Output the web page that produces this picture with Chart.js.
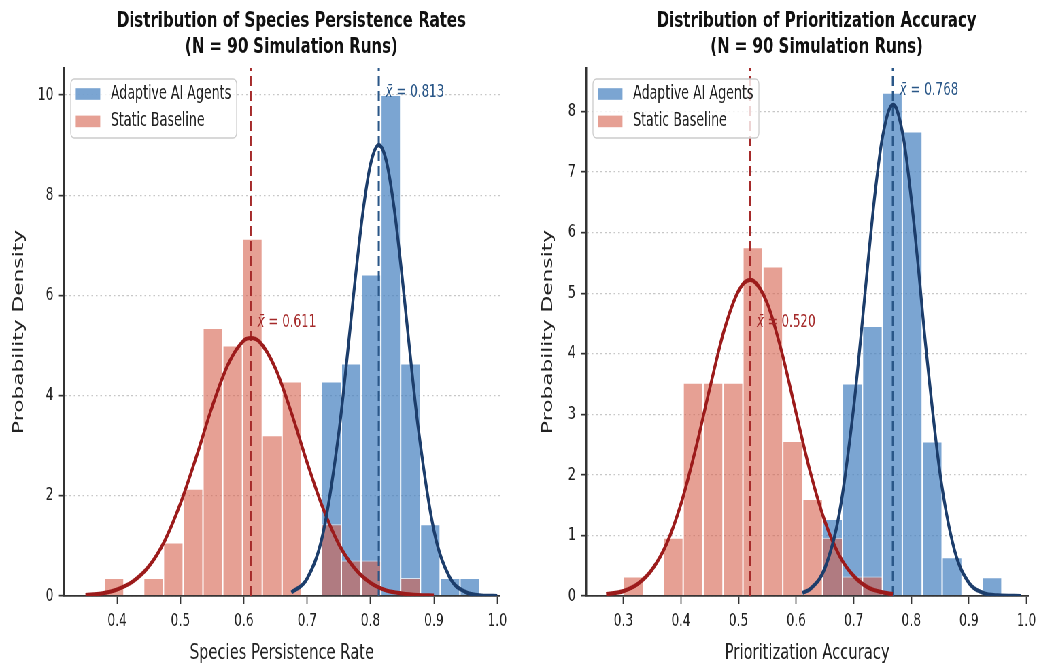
<!DOCTYPE html>
<html>
<head>
<meta charset="utf-8">
<title>Distribution of Species Persistence Rates / Prioritization Accuracy</title>
<script src="https://cdn.jsdelivr.net/npm/chart.js@4.4.1/dist/chart.umd.min.js"></script>
<style>
  html, body { margin: 0; padding: 0; background: #fff; overflow: hidden; }
  /* the figure is laid out wide and squeezed horizontally, like the reference */
  #figure { position: absolute; left: 0; top: 0; width: 1534px; height: 666px;
            transform: scaleX(0.68); transform-origin: 0 0; display: flex; }
  canvas { display: block; }
</style>
</head>
<body>
<div id="figure">
  <canvas id="persistChart" width="767" height="666"></canvas>
  <canvas id="accuracyChart" width="767" height="666"></canvas>
</div>
<script>
const FONT = "'DejaVu Sans', 'Liberation Sans', sans-serif";
const seriesNames = ['Adaptive AI Agents', 'Static Baseline'];

// ---- species persistence panel (histogram densities, shared bins) ----
const persistBins = [0.3951, 0.4263, 0.4575, 0.4887, 0.5199, 0.5511, 0.5823, 0.6135, 0.6447, 0.6759,
                     0.7071, 0.7383, 0.7695, 0.8007, 0.8319, 0.8631, 0.8943, 0.9255, 0.9567];
const persistAdaptive = [0, 0, 0, 0, 0, 0, 0, 0, 0, 0, 0, 4.28, 4.64, 6.42, 10.0, 4.64, 1.43, 0.36, 0.36];
const persistStatic = [0.36, 0, 0.36, 1.07, 2.14, 5.35, 5.0, 7.13, 3.21, 4.28, 0, 1.43, 0.71, 0.71, 0, 0.36, 0, 0, 0];
const persistMeans = [0.813, 0.611];
const persistLabelY = [10.06, 5.47];
// fitted normal curves
const persistFitAdaptiveX = [0.675, 0.70, 0.725, 0.75, 0.7625, 0.775, 0.7875, 0.80, 0.813, 0.825, 0.8375, 0.85, 0.8625, 0.875, 0.90, 0.925, 0.95, 0.975, 1.0];
const persistFitAdaptiveY = [0.07, 0.35, 1.25, 3.27, 4.70, 6.23, 7.62, 8.62, 9.0, 8.68, 7.72, 6.35, 4.82, 3.38, 1.31, 0.37, 0.08, 0.01, 0.0];
const persistFitStaticX = [0.35, 0.375, 0.40, 0.425, 0.45, 0.475, 0.50, 0.525, 0.55, 0.575, 0.60, 0.611, 0.625, 0.65, 0.675, 0.70, 0.725, 0.75, 0.775, 0.80, 0.825, 0.85, 0.875, 0.90];
const persistFitStaticY = [0.02, 0.05, 0.13, 0.29, 0.59, 1.10, 1.85, 2.78, 3.78, 4.62, 5.10, 5.15, 5.07, 4.54, 3.66, 2.66, 1.75, 1.03, 0.55, 0.26, 0.11, 0.05, 0.02, 0.01];

// ---- prioritization accuracy panel ----
const accuracyBins = [0.3173, 0.3519, 0.3865, 0.4211, 0.4557, 0.4903, 0.5249, 0.5595, 0.5941, 0.6287,
                      0.6633, 0.6979, 0.7325, 0.7671, 0.8017, 0.8363, 0.8709, 0.9055, 0.9401];
const accuracyAdaptive = [0, 0, 0, 0, 0, 0, 0, 0, 0, 0, 1.27, 3.51, 4.46, 8.31, 7.67, 2.55, 0.64, 0, 0.31];
const accuracyStatic = [0.32, 0, 0.96, 3.52, 3.52, 3.52, 5.76, 5.44, 2.56, 1.60, 0.96, 0.32, 0.32, 0, 0, 0, 0, 0, 0];
const accuracyMeans = [0.768, 0.520];
const accuracyLabelY = [8.35, 4.52];
const accuracyFitAdaptiveX = [0.611, 0.625, 0.65, 0.675, 0.70, 0.7125, 0.725, 0.7375, 0.75, 0.768, 0.775, 0.7875, 0.80, 0.8125, 0.825, 0.85, 0.875, 0.90, 0.925, 0.95, 0.99];
const accuracyFitAdaptiveY = [0.05, 0.12, 0.46, 1.36, 3.12, 4.29, 5.53, 6.69, 7.58, 8.11, 8.03, 7.50, 6.56, 5.40, 4.14, 2.02, 0.76, 0.22, 0.05, 0.01, 0.0];
const accuracyFitStaticX = [0.27, 0.30, 0.325, 0.35, 0.375, 0.40, 0.425, 0.45, 0.475, 0.50, 0.52, 0.525, 0.55, 0.575, 0.60, 0.625, 0.65, 0.675, 0.70, 0.725, 0.75, 0.768];
const accuracyFitStaticY = [0.03, 0.08, 0.20, 0.44, 0.86, 1.52, 2.41, 3.43, 4.39, 5.04, 5.22, 5.21, 4.83, 4.03, 3.02, 2.03, 1.23, 0.67, 0.33, 0.14, 0.06, 0.03];

const barColors = ['rgba(67, 127, 191, 0.7)', 'rgba(214, 96, 77, 0.6)'];
const curveColors = ['#1c3d6b', '#9c1b1b'];
const meanColors = ['#2a5788', '#a52a2a'];

const points = (xs, ys) => xs.map((x, i) => ({ x: x, y: ys[i] }));

// "x̄ = value" labels next to the mean lines
function meanLabels(means, labelY) {
  return {
    id: 'meanLabels',
    afterDatasetsDraw(chart) {
      const { ctx, scales } = chart;
      ctx.save();
      ctx.textBaseline = 'middle';
      means.forEach((m, i) => {
        let px = scales.x.getPixelForValue(m) + 10;
        const py = scales.y.getPixelForValue(labelY[i]);
        ctx.fillStyle = meanColors[i];
        ctx.font = 'italic 17.5px ' + FONT;
        ctx.fillText('x\u0304', px, py);
        px += ctx.measureText('x\u0304').width;
        ctx.font = '17.5px ' + FONT;
        ctx.fillText(' = ' + m.toFixed(3), px, py);
      });
      ctx.restore();
    }
  };
}

// framed legend in the upper left corner of the plot
const boxLegend = {
  id: 'boxLegend',
  afterDatasetsDraw(chart) {
    const { ctx, chartArea } = chart;
    ctx.save();
    ctx.font = '18.6px ' + FONT;
    const textW = Math.max(...seriesNames.map(s => ctx.measureText(s).width));
    const left = chartArea.left + 10, top = chartArea.top + 11;
    const w = 59 + textW + 8, h = 59, r = 5;
    ctx.beginPath();
    ctx.moveTo(left + r, top);
    ctx.arcTo(left + w, top, left + w, top + h, r);
    ctx.arcTo(left + w, top + h, left, top + h, r);
    ctx.arcTo(left, top + h, left, top, r);
    ctx.arcTo(left, top, left + w, top, r);
    ctx.closePath();
    ctx.fillStyle = 'rgba(255,255,255,0.8)';
    ctx.fill();
    ctx.strokeStyle = '#cccccc';
    ctx.lineWidth = 1.3;
    ctx.stroke();
    ctx.textBaseline = 'middle';
    seriesNames.forEach((name, i) => {
      const cy = top + 15 + i * 27.4;
      ctx.fillStyle = barColors[i];
      ctx.fillRect(left + 7.4, cy - 5.8, 36, 11.6);
      ctx.fillStyle = '#222';
      ctx.fillText(name, left + 59, cy);
    });
    ctx.restore();
  }
};

// the reference titles sit a little right of the plot centre
const titleShift = {
  id: 'titleShift',
  afterLayout(chart) {
    const t = chart.titleBlock;
    if (t) { t.left += 14; t.right += 14; }
  }
};

function makePanel(id, p) {
  const barSet = (i, vals, order) => ({
    type: 'bar', label: seriesNames[i], data: points(p.bins, vals),
    backgroundColor: barColors[i], borderColor: 'rgba(255,255,255,0.7)', borderWidth: 1,
    barPercentage: 1, categoryPercentage: 1, grouped: false, inflateAmount: 0, order: order
  });
  const curveSet = (i, xs, ys) => ({
    type: 'line', data: points(xs, ys), borderColor: curveColors[i], borderWidth: 4.2,
    pointRadius: 0, fill: false, cubicInterpolationMode: 'monotone', order: 0
  });
  const meanSet = (i) => ({
    type: 'line', data: [{ x: p.means[i], y: 0 }, { x: p.means[i], y: p.yMax }],
    borderColor: meanColors[i], borderWidth: i === 0 ? 3 : 2.2, borderDash: [10, 5],
    pointRadius: 0, fill: false, order: 1
  });

  return new Chart(document.getElementById(id), {
    type: 'bar',
    data: {
      datasets: [
        barSet(0, p.adaptive, 3),
        barSet(1, p.baseline, 2),
        meanSet(0), meanSet(1),
        curveSet(0, p.fitAX, p.fitAY),
        curveSet(1, p.fitSX, p.fitSY)
      ]
    },
    options: {
      responsive: false,
      animation: false,
      devicePixelRatio: 1,
      layout: { padding: { left: 0, right: p.padRight, top: 0, bottom: 0 } },
      plugins: {
        legend: { display: false },
        tooltip: { enabled: false },
        title: {
          display: true, text: p.title, fullSize: false, color: '#111',
          font: { family: FONT, size: 22, weight: 'bold', lineHeight: 1.15 },
          padding: { top: 9, bottom: 8.4 }
        }
      },
      scales: {
        x: {
          type: 'linear', min: p.xMin, max: p.xMax, offset: false,
          ticks: { stepSize: 0.1, includeBounds: false, autoSkip: false, maxRotation: 0,
                   callback: v => v.toFixed(1), color: '#222', padding: 7,
                   font: { family: FONT, size: 18 } },
          grid: { drawOnChartArea: false, offset: false, tickLength: 8, tickColor: '#333', tickWidth: 1.7 },
          border: { color: '#333', width: 1.7 },
          title: { display: true, text: p.xTitle, color: '#222',
                   font: { family: FONT, size: 21.7 }, padding: { top: 0, bottom: 0 } },
          afterFit: s => { s.height = 70; }
        },
        y: {
          min: 0, max: p.yMax,
          ticks: { stepSize: p.yStep, includeBounds: false, color: '#222', padding: 8,
                   font: { family: FONT, size: 18 } },
          grid: { color: 'rgba(0,0,0,0.22)', lineWidth: 1.3, tickLength: 7.4,
                  tickColor: '#333', tickWidth: 1.7, tickBorderDash: [] },
          border: { color: '#333', width: 2.5, dash: [2.5, 4] },
          title: { display: true, text: 'Probability Density', color: '#222',
                   font: { family: FONT, size: 21.7 }, padding: { top: p.yTitlePad, bottom: 0 } },
          afterFit: s => { s.width = p.yWidth; }
        }
      }
    },
    plugins: [titleShift, meanLabels(p.means, p.labelY), boxLegend]
  });
}

makePanel('persistChart', {
  title: ['Distribution of Species Persistence Rates', '(N = 90 Simulation Runs)'],
  xTitle: 'Species Persistence Rate',
  bins: persistBins, adaptive: persistAdaptive, baseline: persistStatic,
  means: persistMeans, labelY: persistLabelY,
  fitAX: persistFitAdaptiveX, fitAY: persistFitAdaptiveY,
  fitSX: persistFitStaticX, fitSY: persistFitStaticY,
  xMin: 0.316, xMax: 1.004, yMax: 10.54, yStep: 2,
  yWidth: 94, yTitlePad: 15, padRight: 32
});

makePanel('accuracyChart', {
  title: ['Distribution of Prioritization Accuracy', '(N = 90 Simulation Runs)'],
  xTitle: 'Prioritization Accuracy',
  bins: accuracyBins, adaptive: accuracyAdaptive, baseline: accuracyStatic,
  means: accuracyMeans, labelY: accuracyLabelY,
  fitAX: accuracyFitAdaptiveX, fitAY: accuracyFitAdaptiveY,
  fitSX: accuracyFitStaticX, fitSY: accuracyFitStaticY,
  xMin: 0.2353, xMax: 1.003, yMax: 8.72, yStep: 1,
  yWidth: 95, yTitlePad: 26, padRight: 22
});
</script>
</body>
</html>
